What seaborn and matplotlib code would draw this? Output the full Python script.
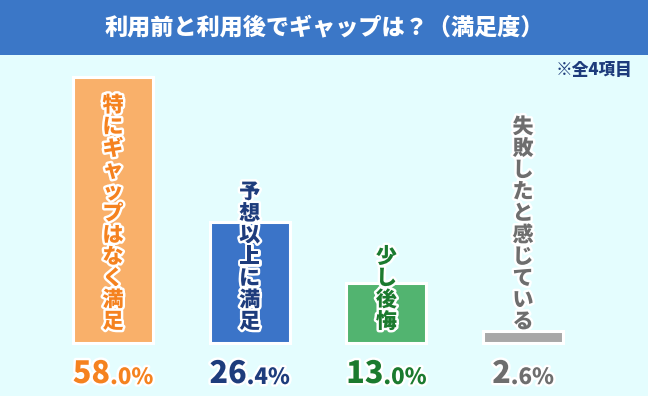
import matplotlib
matplotlib.use("Agg")
import matplotlib.pyplot as plt
import matplotlib.patheffects as pe
from matplotlib.patches import Rectangle
import seaborn as sns

# data
categories = ["特にギャップはなく満足", "予想以上に満足", "少し後悔", "失敗したと感じている"]
values = [58.0, 26.4, 13.0, 2.6]
big_parts = ["58", "26", "13", "2"]
small_parts = [".0%", ".4%", ".0%", ".6%"]
bar_colors = ["#F9B06A", "#3B74C8", "#52B470", "#A8A8A8"]
text_colors = ["#F5821F", "#1E3C7C", "#1B7A2E", "#6E6E6E"]

title = "利用前と利用後でギャップは？（満足度）"
note = "※全4項目"

bg = "#E4FDFE"
banner = "#3B77C7"

sns.set_style("white")
plt.rcParams['font.family'] = ['Noto Sans CJK JP', 'DejaVu Sans']

fig = plt.figure(figsize=(6.48, 3.96), dpi=100, facecolor=bg)
ax = fig.add_axes([0, 0, 1, 1])
ax.set_facecolor(bg)

sns.barplot(x=categories, y=values, hue=categories, palette=bar_colors,
            legend=False, width=0.585, ax=ax, edgecolor="white", linewidth=2.2,
            saturation=1)
for p in ax.patches:
    p.set_path_effects([pe.SimplePatchShadow(offset=(1, -1), shadow_rgbFace="#b8d6d8", alpha=0.6),
                        pe.Normal()])

# pixel mapping: bar centres 113..523, baseline 343px from top
px_per_cat = (523 - 113) / 3
px_per_pct = 266 / 58.0
ax.set_xlim(-113 / px_per_cat, (648 - 113) / px_per_cat)
ax.set_ylim(-53 / px_per_pct, (396 - 53) / px_per_pct)
ax.set_axis_off()

stroke = [pe.withStroke(linewidth=3.5, foreground="white")]

# vertical labels, bottom aligned inside the bars
for i, (cat, col) in enumerate(zip(categories, text_colors)):
    ax.text(i, 11 / px_per_pct, "\n".join(cat), ha="center", va="bottom",
            fontsize=15.15, fontweight="heavy", color=col, linespacing=1.1,
            path_effects=stroke)

# value labels: big integer part + smaller decimal part
fig.canvas.draw()
r = fig.canvas.get_renderer()
y_val = -40 / px_per_pct
for i, (b, s, col) in enumerate(zip(big_parts, small_parts, text_colors)):
    t1 = ax.text(i, y_val, b, ha="right", va="baseline", fontsize=22,
                 fontweight="heavy", color=col, path_effects=stroke)
    t2 = ax.annotate(s, xy=(1, 0), xycoords=t1, ha="left", va="bottom",
                     fontsize=16, fontweight="heavy", color=col,
                     path_effects=stroke)
    w1 = t1.get_window_extent(r).width
    w2 = t2.get_window_extent(r).width
    t1.set_x(i + ((w1 - w2) / 2) / px_per_cat)

# title banner
fig.patches.append(Rectangle((0, 1 - 55 / 396), 1, 55 / 396, transform=fig.transFigure,
                             facecolor=banner, edgecolor="none", zorder=0))
fig.text(0.5, 1 - 27 / 396, title, ha="center", va="center", color="white",
         fontsize=16.7, fontweight="heavy")
fig.text(632 / 648, 1 - 70 / 396, note, ha="right", va="center", color="#1E3C7C",
         fontsize=12, fontweight="heavy")

fig.savefig("out.png", dpi=100, facecolor=bg)
